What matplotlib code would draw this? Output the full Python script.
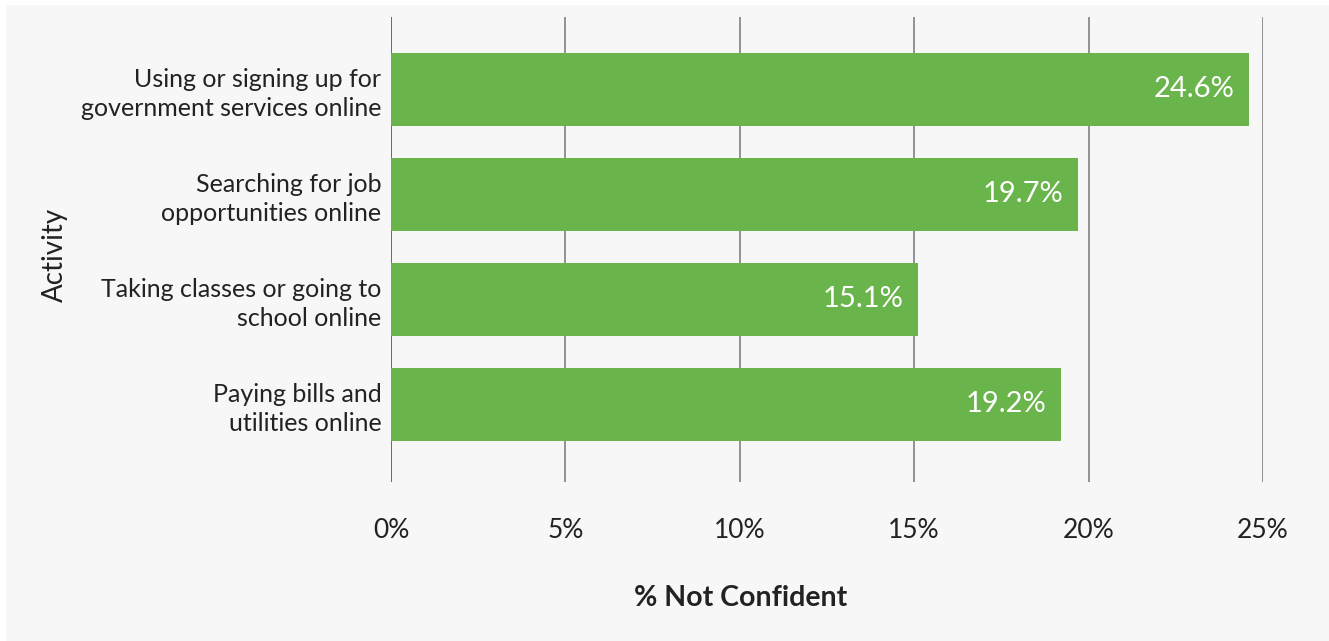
import matplotlib
matplotlib.use("Agg")
import matplotlib.pyplot as plt
from matplotlib.patches import Rectangle

categories = ["Using or signing up for\ngovernment services online",
              "Searching for job\nopportunities online",
              "Taking classes or going to\nschool online",
              "Paying bills and\nutilities online"]
values = [24.6, 19.7, 15.1, 19.2]
tick_values = [0, 5, 10, 15, 20, 25]
tick_labels = ["0%", "5%", "10%", "15%", "20%", "25%"]

W, H = 1329, 641
fig = plt.figure(figsize=(W / 100, H / 100), dpi=100)
fig.patch.set_facecolor("white")
fig.patches.append(Rectangle((6 / W, 0), 1 - 6 / W, 1 - 5 / H, transform=fig.transFigure,
                             facecolor="#f7f7f7", edgecolor="none", zorder=-10))

font = ["Lato", "DejaVu Sans"]
x0, x1 = 391, 1263
y_top, y_bot = 17, 482
ax = fig.add_axes([x0 / W, 1 - y_bot / H, (x1 - x0) / W, (y_bot - y_top) / H])
ax.set_facecolor("none")

ypos = list(range(len(categories)))
ax.barh(ypos, values, height=0.69, color="#6ab44c", zorder=2)
ax.set_xlim(0, 25)
ax.set_ylim(3.74, -0.69)

for v in tick_values:
    ax.axvline(v, color="#777777" if v else "#444444", lw=1.1, zorder=1)

for y, v in zip(ypos, values):
    ax.text(v - 0.42, y, f"{v:.1f}%", ha="right", va="center", color="white",
            fontsize=21, family=font, zorder=3)

ax.set_xticks(tick_values)
ax.set_xticklabels(tick_labels, fontsize=19, family=font, color="#222222")
ax.tick_params(axis="x", length=0, pad=26)
ax.set_yticks(ypos)
ax.set_yticklabels(categories, fontsize=18, family=font, color="#222222",
                   linespacing=1.3)
ax.tick_params(axis="y", length=0, pad=7)
for s in ax.spines.values():
    s.set_visible(False)

fig.text(741 / W, 1 - 598 / H, "% Not Confident", ha="center", va="center",
         fontsize=20.5, fontweight="bold", family=font, color="#222222")
fig.text(55 / W, 1 - 255 / H, "Activity", ha="center", va="center", rotation=90,
         fontsize=20, family=font, color="#222222")

fig.savefig("out.png", dpi=100, facecolor=fig.get_facecolor())
